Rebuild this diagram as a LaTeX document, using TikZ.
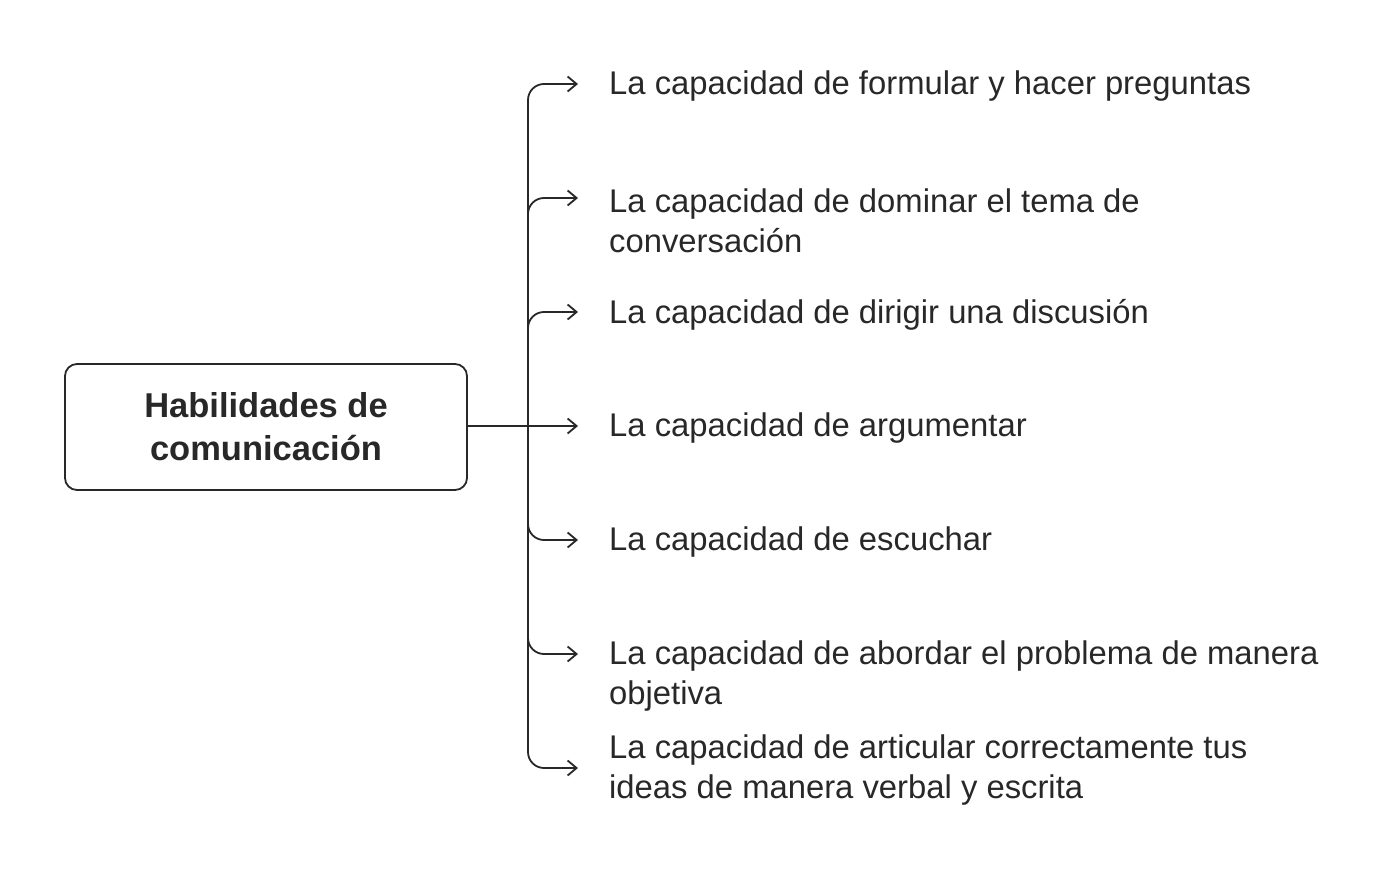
\documentclass[tikz,border=0pt]{standalone}
\usepackage{fontspec}
\setmainfont{Liberation Sans}
\usetikzlibrary{arrows.meta}
\definecolor{ink}{HTML}{282828}
\tikzset{
  conn/.style={draw=ink, line width=1.8pt, -{Straight Barb[length=9pt,width=15pt,line width=1.8pt]}},
  item/.style={anchor=west, inner sep=0pt, text=ink, align=left, font=\fontsize{32.8}{40}\selectfont},
  mainbox/.style={draw=ink, line width=1.8pt, rounded corners=12pt, minimum width=402pt, minimum height=126pt, align=center, text=ink, font=\fontsize{34.5}{43}\selectfont\bfseries}
}
\begin{document}
\begin{tikzpicture}[x=1pt,y=-1pt]
\useasboundingbox (0,0) rectangle (1400,872);
\node[mainbox] (hub) at (266,427) {Habilidades de\\comunicación};
\coordinate (j) at (528,426);
\coordinate (a1) at (578,84);
\coordinate (a2) at (578,198);
\coordinate (a3) at (578,312);
\coordinate (a4) at (578,426);
\coordinate (a5) at (578,540);
\coordinate (a6) at (578,654);
\coordinate (a7) at (578,768);
\node[item] (t1) at (609,86.5) {La capacidad de formular y hacer preguntas};
\node[item] (t2) at (609,220.5) {La capacidad de dominar el tema de\\conversación};
\node[item] (t3) at (609,314.5) {La capacidad de dirigir una discusión};
\node[item] (t4) at (609,428.5) {La capacidad de argumentar};
\node[item] (t5) at (609,542.5) {La capacidad de escuchar};
\node[item] (t6) at (609,676.5) {La capacidad de abordar el problema de manera\\objetiva};
\node[item] (t7) at (609,770.5) {La capacidad de articular correctamente tus\\ideas de manera verbal y escrita};
\draw[draw=ink, line width=1.8pt] (hub.east |- j) -- (j);
\draw[conn] (j) -- (a4);
\foreach \k in {1,2,3,5,6,7}{
  \draw[conn, rounded corners=16pt] (j) |- (a\k);
}
\end{tikzpicture}
\end{document}
